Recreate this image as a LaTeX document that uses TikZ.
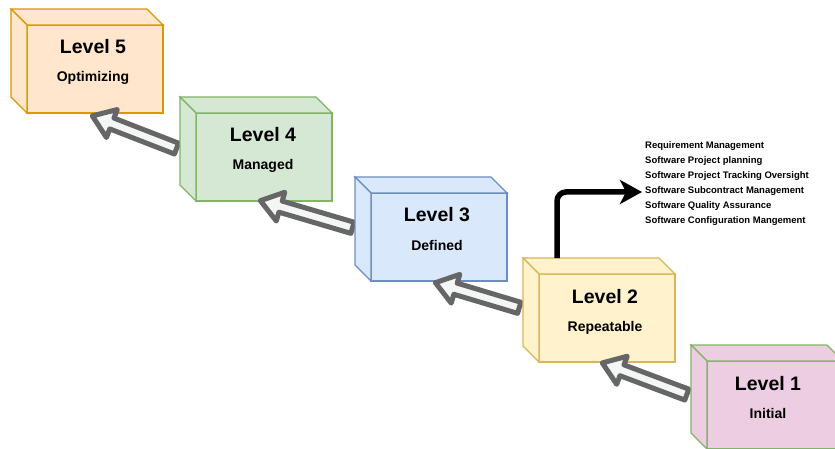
\documentclass[tikz,border=0pt]{standalone}
\usepackage{fontspec}
\setmainfont{Liberation Sans}
\usetikzlibrary{calc,arrows.meta}
\definecolor{fFive}{HTML}{FFE6CC}\definecolor{dFive}{HTML}{D79B00}
\definecolor{fFour}{HTML}{D5E8D4}\definecolor{dFour}{HTML}{82B366}
\definecolor{fThree}{HTML}{DAE8FC}\definecolor{dThree}{HTML}{6C8EBF}
\definecolor{fTwo}{HTML}{FFF2CC}\definecolor{dTwo}{HTML}{D6B656}
\definecolor{fOne}{HTML}{EDCDE1}\definecolor{dOne}{HTML}{82B366}
\definecolor{arrgray}{HTML}{666666}\definecolor{arrfill}{HTML}{F3F6F5}
\pgfdeclarelayer{bg}
\pgfdeclarelayer{lfive}\pgfdeclarelayer{afive}
\pgfdeclarelayer{lfour}\pgfdeclarelayer{afour}
\pgfdeclarelayer{lthree}\pgfdeclarelayer{athree}
\pgfdeclarelayer{ltwo}\pgfdeclarelayer{atwo}
\pgfdeclarelayer{lone}
\pgfsetlayers{bg,lfive,afive,lfour,afour,lthree,athree,ltwo,atwo,lone,main}
\tikzset{
  face/.style={line width=1.2pt, line join=miter},
  front/.style={face, rectangle, inner sep=0pt, outer sep=0pt,
    minimum width=136pt, minimum height=88pt, anchor=north west},
  ttl/.style={font=\bfseries\fontsize{19.5}{20}\selectfont, anchor=base, inner sep=0pt},
  subttl/.style={font=\bfseries\fontsize{14}{15}\selectfont, anchor=base, inner sep=0pt},
  barrow/.style={draw=arrgray, fill=arrfill, line width=5pt, line join=round},
  flow/.style={line width=5.5pt, -{Stealth[length=22pt,width=24pt,inset=6pt]}, rounded corners=9pt},
  listtxt/.style={font=\bfseries\fontsize{9.5}{15}\selectfont, align=left, anchor=north west, inner sep=0pt}
}
% #1 name, #2 x, #3 y, #4 fill, #5 stroke, #6 title, #7 subtitle, #8 text dx, #9 layer
\newcommand\mkcube[9]{%
  \begin{pgfonlayer}{#9}
  \node[front, fill=#4, draw=#5] (#1) at (#2,#3) {};
  \draw[face, fill=#4, draw=#5] (#1.north west) -- ++(-16,-16) -- ++(136,0) -- (#1.north east) -- cycle;
  \draw[face, fill=#4, draw=#5] (#1.north west) -- ++(-16,-16) -- ++(0,88) -- (#1.south west) -- cycle;
  \node[ttl] (#1t) at ($(#1.north west)+(#8,29)$) {#6};
  \node[subttl] (#1s) at ($(#1.north west)+(#8,57)$) {#7};
  \end{pgfonlayer}
}
% #1 tail, #2 tip, #3 layer
\newcommand\blockarr[3]{%
  \begin{pgfonlayer}{#3}
  \path ($(#2)!21pt!(#1)$) coordinate (hb);
  \draw[barrow] ($(#1)!5.8pt!90:(#2)$) -- ($(hb)!5.8pt!90:(#2)$) -- ($(hb)!15pt!90:(#2)$)
    -- (#2) -- ($(hb)!15pt!-90:(#2)$) -- ($(hb)!5.8pt!-90:(#2)$) -- ($(#1)!5.8pt!-90:(#2)$) -- cycle;
  \end{pgfonlayer}
}
\begin{document}
\begin{tikzpicture}[x=1pt,y=-1pt]
\useasboundingbox (0,0) rectangle (835,449);
\begin{pgfonlayer}{bg}
\fill[white] (0,0) rectangle (835,449);
\end{pgfonlayer}
\mkcube{L5}{27}{25}{fFive}{dFive}{Level 5}{Optimizing}{66}{lfive}
\mkcube{L4}{196}{113}{fFour}{dFour}{Level 4}{Managed}{67}{lfour}
\mkcube{L3}{371}{193}{fThree}{dThree}{Level 3}{Defined}{66}{lthree}
\mkcube{L2}{539}{274}{fTwo}{dTwo}{Level 2}{Repeatable}{66}{ltwo}
\mkcube{L1}{707}{361}{fOne}{dOne}{Level 1}{Initial}{61}{lone}
\node[listtxt] (list) at (645,141) {Requirement Management\\Software Project planning\\Software Project Tracking Oversight\\Software Subcontract Management\\Software Quality Assurance\\Software Configuration Mangement};
\coordinate (src) at ($(L2.north west)+(18,-16)$);
\coordinate (dst) at ($(list.north west)+(-3,51)$);
\draw[flow] (src) |- (dst);
\coordinate (t45) at ($(L4.north west)+(-19.5,35.6)$);
\coordinate (p45) at ($(L5.north west)+(65.3,90.9)$);
\coordinate (t34) at ($(L3.north west)+(-18.5,34.8)$);
\coordinate (p34) at ($(L4.north west)+(64.4,87.7)$);
\coordinate (t23) at ($(L2.north west)+(-19.8,33.8)$);
\coordinate (p23) at ($(L3.north west)+(64.4,89.7)$);
\coordinate (t12) at ($(L1.north west)+(-20.2,33.6)$);
\coordinate (p12) at ($(L2.north west)+(63.3,88.9)$);
\blockarr{t45}{p45}{afive}
\blockarr{t34}{p34}{afour}
\blockarr{t23}{p23}{athree}
\blockarr{t12}{p12}{atwo}
\end{tikzpicture}
\end{document}
